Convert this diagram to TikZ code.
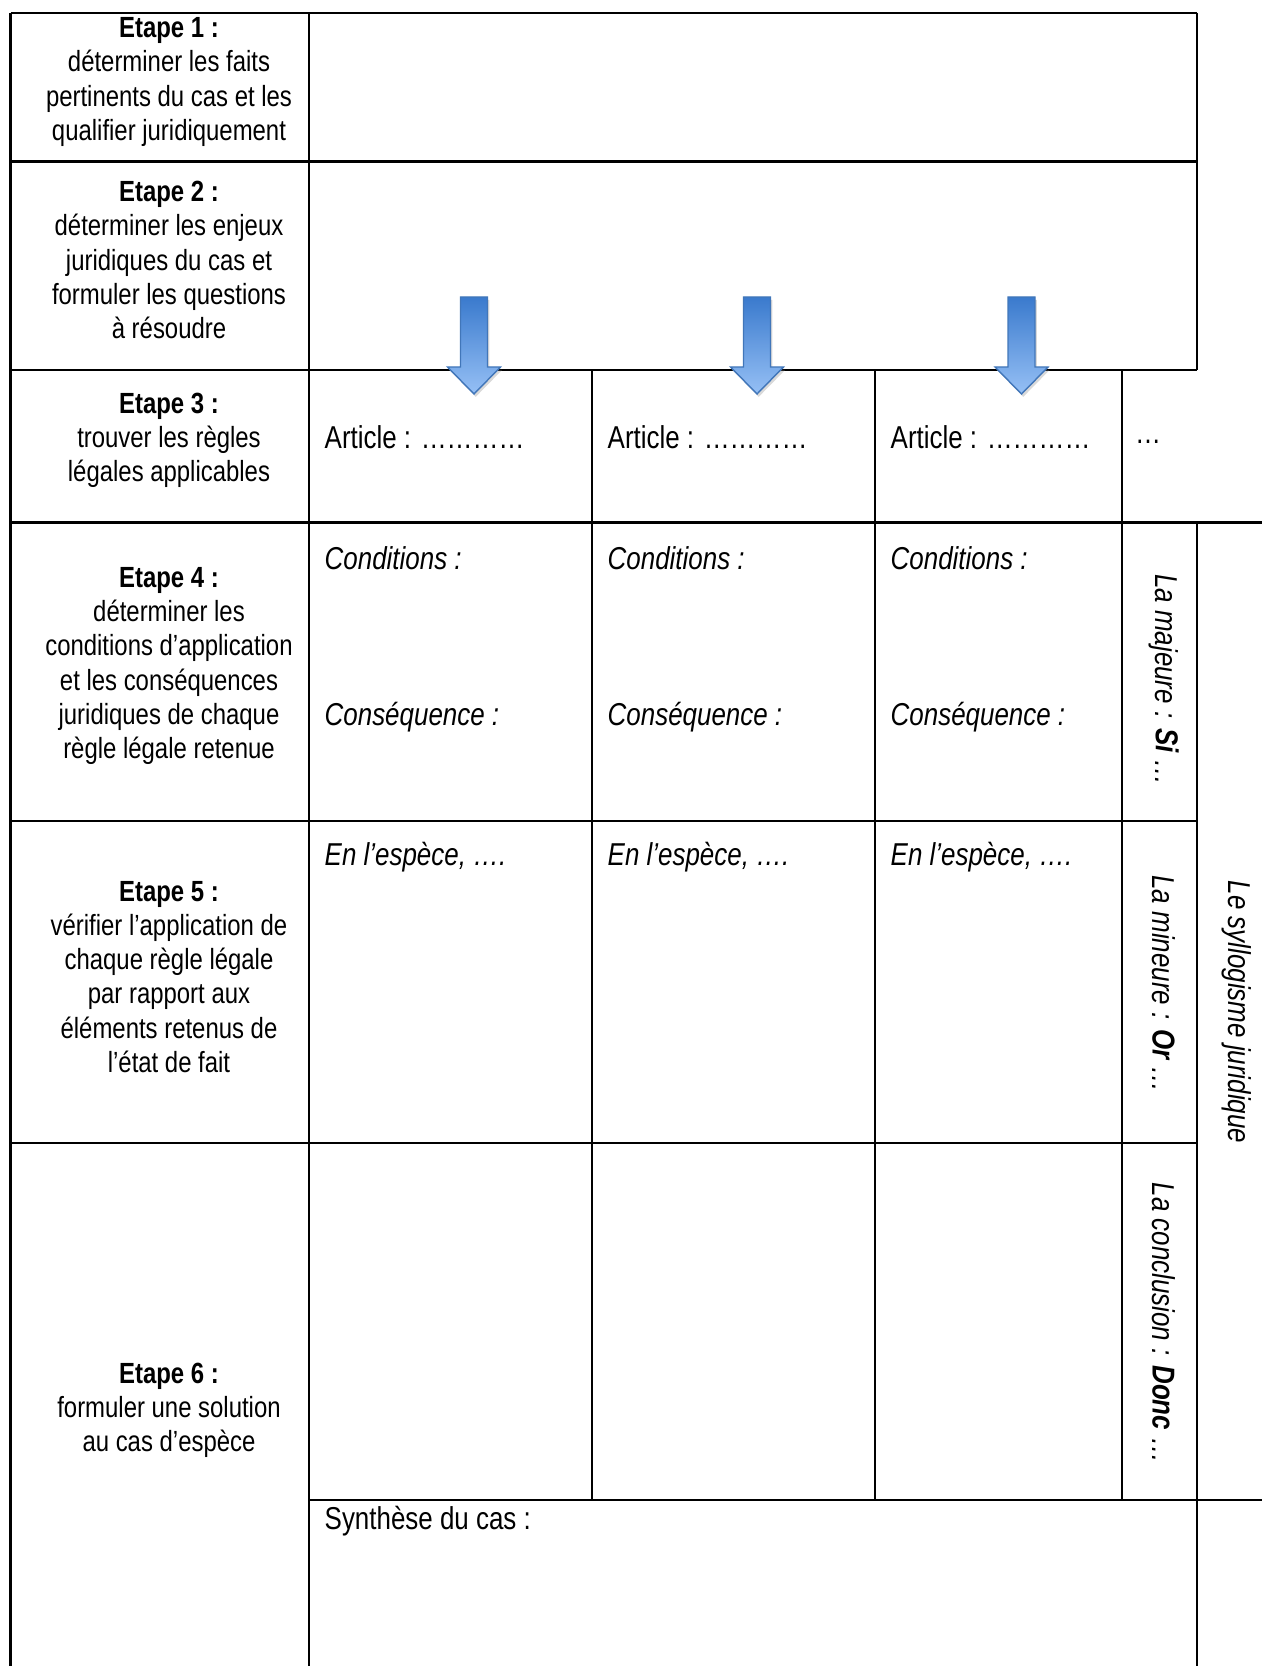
\documentclass[tikz,border=0pt]{standalone}
\usepackage{fontspec}
\setmainfont[FakeStretch=0.82]{Liberation Sans}
\usetikzlibrary{shadows}
\definecolor{flechehaut}{RGB}{58, 122, 205}
\definecolor{flechebas}{RGB}{150, 192, 245}
\definecolor{flechebord}{RGB}{65, 118, 185}

\tikzset{
  grille/.style={line width=0.65pt},
  etape/.style={align=center, inner sep=0pt, font=\fontsize{8.3}{9.7}\selectfont},
  cellule/.style={anchor=west, inner sep=0pt, font=\fontsize{9}{10.5}\selectfont},
  cellit/.style={cellule, font=\fontsize{9}{10.5}\selectfont\itshape},
  lateral/.style={rotate=-90, inner sep=0pt, font=\fontsize{9}{10.5}\selectfont\itshape},
  flechebleue/.style={top color=flechehaut, bottom color=flechebas, draw=flechebord, line width=0.4pt,
    drop shadow={opacity=0.3, shadow xshift=0.5pt, shadow yshift=-0.8pt}}
}

\begin{document}
\begin{tikzpicture}
  \useasboundingbox (0, 0) rectangle (12.62, -16.66);

  % Grille du tableau
  \draw[grille] (0.106, -0.127) -- (11.97, -0.127);
  \draw[grille] (0.106, -1.615) -- (11.97, -1.615);
  \draw[grille] (0.106, -3.697) -- (11.97, -3.697);
  \draw[grille] (0.106, -5.226) -- (12.62, -5.226);
  \draw[grille] (0.106, -8.212) -- (11.97, -8.212);
  \draw[grille] (0.106, -11.43) -- (11.97, -11.43);
  \draw[grille] (3.09, -15.00) -- (12.62, -15.00);

  \draw[grille] (0.106, -0.127) -- (0.106, -16.66);
  \draw[grille] (3.09, -0.127) -- (3.09, -16.66);
  \draw[grille] (5.92, -3.697) -- (5.92, -15.00);
  \draw[grille] (8.75, -3.697) -- (8.75, -15.00);
  \draw[grille] (11.22, -3.697) -- (11.22, -15.00);
  \draw[grille] (11.97, -0.127) -- (11.97, -3.697);
  \draw[grille] (11.97, -5.226) -- (11.97, -16.66);

  % Colonne des etapes
  \node[etape] (etape1) at (1.69, -0.82) {\textbf{Etape 1 :}\\déterminer les faits\\pertinents du cas et les\\qualifier juridiquement};
  \node[etape] (etape2) at (1.69, -2.60) {\textbf{Etape 2 :}\\déterminer les enjeux\\juridiques du cas et\\formuler les questions\\à résoudre};
  \node[etape] (etape3) at (1.69, -4.40) {\textbf{Etape 3 :}\\trouver les règles\\légales applicables};
  \node[etape] (etape4) at (1.69, -6.66) {\textbf{Etape 4 :}\\déterminer les\\conditions d’application\\et les conséquences\\juridiques de chaque\\règle légale retenue};
  \node[etape] (etape5) at (1.69, -9.77) {\textbf{Etape 5 :}\\vérifier l’application de\\chaque règle légale\\par rapport aux\\éléments retenus de\\l’état de fait};
  \node[etape] (etape6) at (1.69, -14.10) {\textbf{Etape 6 :}\\formuler une solution\\au cas d’espèce};

  % Articles
  \node[cellule] (art1) at (3.24, -4.37) {Article : …………};
  \node[cellule] (art2) at (6.07, -4.37) {Article : …………};
  \node[cellule] (art3) at (8.90, -4.37) {Article : …………};
  \node[etape, font=\fontsize{9}{10.5}\selectfont] (artx) at (11.48, -4.42) {…};

  \node[cellit] (cond1) at (3.24, -5.58) {Conditions :};
  \node[cellit] (cond2) at (6.07, -5.58) {Conditions :};
  \node[cellit] (cond3) at (8.90, -5.58) {Conditions :};

  \node[cellit] (cons1) at (3.24, -7.17) {Conséquence :};
  \node[cellit] (cons2) at (6.07, -7.17) {Conséquence :};
  \node[cellit] (cons3) at (8.90, -7.17) {Conséquence :};

  \node[cellit] (esp1) at (3.24, -8.57) {En l’espèce, ….};
  \node[cellit] (esp2) at (6.07, -8.57) {En l’espèce, ….};
  \node[cellit] (esp3) at (8.90, -8.57) {En l’espèce, ….};

  \node[cellule] (synthese) at (3.24, -15.21) {Synthèse du cas :};

  % Syllogisme
  \node[lateral] (majeure) at (11.64, -6.80) {La majeure : \textbf{Si} …};
  \node[lateral] (mineure) at (11.64, -9.84) {La mineure : \textbf{Or} …};
  \node[lateral] (conclusion) at (11.64, -13.23) {La conclusion : \textbf{Donc} …};
  \node[lateral] (syllogisme) at (12.37, -10.12) {Le syllogisme juridique};

  % Fleches
  \path[flechebleue, shift={(4.74, 0)}] (-0.135, -2.97) -- (0.135, -2.97) -- (0.135, -3.67) -- (0.265, -3.67) -- (0, -3.94) -- (-0.265, -3.67) -- (-0.135, -3.67) -- cycle;
  \path[flechebleue, shift={(7.57, 0)}] (-0.135, -2.97) -- (0.135, -2.97) -- (0.135, -3.67) -- (0.265, -3.67) -- (0, -3.94) -- (-0.265, -3.67) -- (-0.135, -3.67) -- cycle;
  \path[flechebleue, shift={(10.215, 0)}] (-0.135, -2.97) -- (0.135, -2.97) -- (0.135, -3.67) -- (0.265, -3.67) -- (0, -3.94) -- (-0.265, -3.67) -- (-0.135, -3.67) -- cycle;
\end{tikzpicture}
\end{document}
